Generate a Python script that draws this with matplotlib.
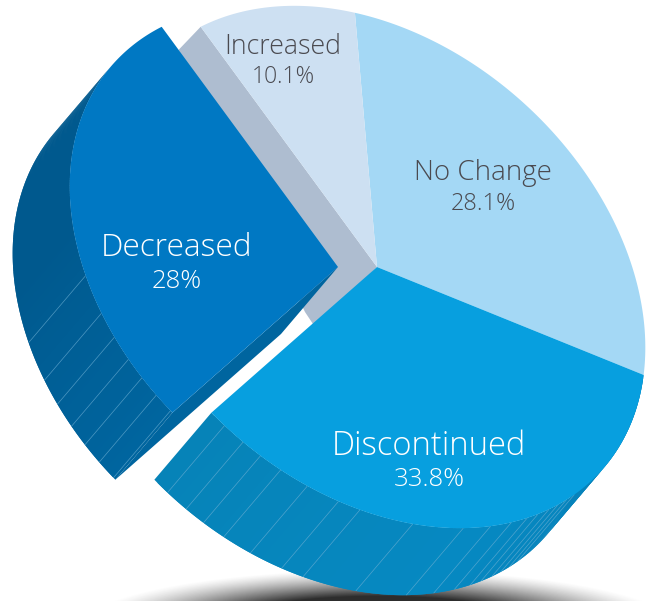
import numpy as np
import matplotlib
matplotlib.use("Agg")
import matplotlib.pyplot as plt
from matplotlib.colors import to_rgb
from matplotlib.patches import Polygon

plt.rcParams['font.family'] = ['Open Sans', 'DejaVu Sans']

# Data
categories = ["No Change", "Increased", "Decreased", "Discontinued"]
values = [28.1, 10.1, 28.0, 33.8]
value_labels = ["28.1%", "10.1%", "28%", "33.8%"]

top_colors = ["#A4D8F5", "#CDE0F2", "#0078C3", "#079FDF"]
text_colors = ["#4A4A50", "#4A4A50", "white", "white"]
name_sizes = [20, 19.3, 22.8, 23.6]
value_sizes = [17, 16.5, 18.5, 18.5]
label_xy = [(483, 173, 204), (283, 47, 77), (177, 248, 282), (429, 446, 479)]

# Geometry of the tilted disc, in pixels
cx, cy = 377, 267
semi_a, semi_b = 303, 220
tilt = np.radians(42.5)
start_t = 27.2
depth = np.array([-57, 67])
explode = [np.zeros(2), np.zeros(2), np.array([-39, 0]), np.zeros(2)]
wall_start_decreased = 181  # rim angle where the wall comes out from behind the top face

# Thin lines on the side wall, given as angle on the rim
slats_decreased = [233.5, 241.8, 247.2, 252.3, 256.7, 261, 265]
slats_discontinued = [269, 273.7, 277.9, 282.6, 288.6, 295.4, 300, 311.3, 322.4,
                      328.7, 333.7, 337.7, 340.5, 343.5, 346, 348.5, 351]


def rim(t_deg, offset=np.zeros(2)):
    t = np.radians(np.asarray(t_deg, dtype=float))
    x = semi_a * np.cos(t)
    y = semi_b * np.sin(t)
    px = cx + x * np.cos(tilt) + y * np.sin(tilt) + offset[0]
    py = cy + x * np.sin(tilt) - y * np.cos(tilt) + offset[1]
    return np.column_stack([px, py])


# Side wall built from short overlapping strips, so the colour can drift along the rim
def draw_wall(t0, t1, offset, stops):
    ts = np.linspace(t0, t1, 150)
    rgb = np.array([to_rgb(c) for c in stops])
    pos = np.linspace(0, 1, len(stops))
    up = rim(ts, offset)
    for j in range(len(ts) - 2):
        f = j / (len(ts) - 3)
        col = [np.interp(f, pos, rgb[:, k]) for k in range(3)]
        quad = [up[j], up[j + 1], up[j + 2], up[j + 2] + depth, up[j + 1] + depth, up[j] + depth]
        ax.add_patch(Polygon(quad, closed=True, fc=col, ec='none', zorder=2))


fig = plt.figure(figsize=(6.48, 6.01), dpi=100)
ax = fig.add_axes([0, 0, 1, 1])

# Shadow under the pie
yy, xx = np.mgrid[560:601, 100:648]
r = np.sqrt(((xx - 378) / 300.0) ** 2 + ((yy - 627) / 58.0) ** 2)
shadow = np.zeros(xx.shape + (4,))
shadow[..., :3] = 0.13
shadow[..., 3] = np.clip(np.clip(1 - r, 0, 1) ** 1.3 * 2.6, 0, 0.95)
ax.imshow(shadow, extent=[100, 648, 601, 560], aspect='auto', zorder=1)
ax.set_xlim(0, 648)
ax.set_ylim(601, 0)
ax.axis('off')

# Angles of each slice come from the values
spans = np.array(values) / sum(values) * 360
starts = start_t + np.concatenate([[0], np.cumsum(spans)[:-1]])
ends = starts + spans
apex = np.array([cx, cy])

draw_wall(wall_start_decreased, ends[2], explode[2], ["#00598E", "#00598E", "#00659F"])
draw_wall(starts[3], ends[3], explode[3], ["#0683B8", "#0689C2", "#0680B8"])

for slats, i in [(slats_decreased, 2), (slats_discontinued, 3)]:
    for t in slats:
        p = rim(t, explode[i])[0]
        ax.plot([p[0], p[0] + depth[0]], [p[1], p[1] + depth[1]], color="#6FB0D4",
                lw=0.5, alpha=0.7, zorder=3, solid_capstyle='butt')

# Grey inner wall between Increased and Decreased
corner = rim(starts[2])[0]
ax.add_patch(Polygon([corner, apex, apex + [-62, 60], apex + [-72, 45], corner + [-22, 23]],
                     closed=True, fc="#AEBDD0", ec='none', zorder=4))

# Dark strip under the exploded slice
apex_d = apex + explode[2]
end_d = rim(ends[2], explode[2])[0]
ax.add_patch(Polygon([apex_d, end_d, end_d + depth, apex_d + depth], closed=True,
                     fc="#00659F", ec='none', zorder=5))

# Top faces
for i in range(len(values)):
    ts = np.linspace(starts[i], ends[i], 200)
    pts = rim(ts, explode[i])
    ax.add_patch(Polygon(np.vstack([apex + explode[i], pts]), closed=True, fc=top_colors[i],
                         ec='none', zorder=6))

# Labels
for i, name in enumerate(categories):
    lx, ly1, ly2 = label_xy[i]
    ax.text(lx, ly1, name, color=text_colors[i], fontsize=name_sizes[i], ha='center',
            va='center', fontweight='light', zorder=7)
    ax.text(lx, ly2, value_labels[i], color=text_colors[i], fontsize=value_sizes[i], ha='center',
            va='center', fontweight='light', zorder=7)

fig.savefig("out.png", dpi=100)
